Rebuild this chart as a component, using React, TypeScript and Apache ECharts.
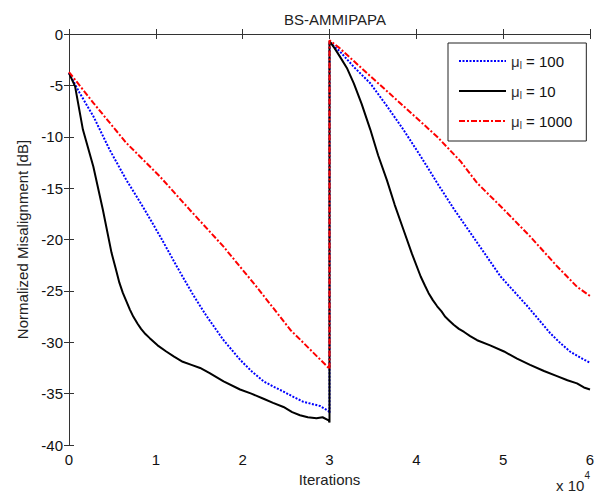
import React, { useEffect, useRef } from "react";
import * as echarts from "echarts";

// x in units of 10^4 iterations
const blackX = [0, 0.07, 0.16, 0.28, 0.39, 0.49, 0.54, 0.58, 0.62, 0.66, 0.7, 0.74, 0.79, 0.83, 0.88, 0.93, 1.02, 1.12, 1.21, 1.31, 1.41, 1.51, 1.62, 1.78, 1.97, 2.1, 2.24, 2.35, 2.47, 2.57, 2.66, 2.75, 2.85, 2.92, 2.99, 3.0, 3.0, 3.06, 3.12, 3.2, 3.28, 3.37, 3.47, 3.56, 3.66, 3.75, 3.85, 3.95, 4.05, 4.1, 4.14, 4.19, 4.24, 4.29, 4.33, 4.38, 4.43, 4.49, 4.55, 4.62, 4.7, 4.85, 5.01, 5.16, 5.31, 5.47, 5.62, 5.74, 5.85, 5.93, 6.0];
const blackY = [-3.8, -5.1, -9.3, -12.9, -17.1, -21.3, -22.9, -24.2, -25.2, -26.0, -26.8, -27.5, -28.2, -28.7, -29.2, -29.6, -30.3, -30.9, -31.4, -31.9, -32.2, -32.5, -33.0, -33.8, -34.6, -35.0, -35.5, -35.9, -36.3, -36.8, -37.1, -37.3, -37.4, -37.3, -37.6, -37.8, -0.7, -1.4, -2.2, -3.3, -4.8, -6.8, -9.3, -11.8, -14.2, -16.6, -19.0, -21.4, -23.6, -24.5, -25.2, -25.9, -26.5, -27.0, -27.5, -27.9, -28.3, -28.7, -29.0, -29.4, -29.8, -30.3, -30.9, -31.6, -32.2, -32.8, -33.3, -33.7, -34.0, -34.4, -34.6];

const blueX = [0, 0.12, 0.28, 0.47, 0.66, 0.85, 1.05, 1.24, 1.43, 1.58, 1.78, 1.97, 2.1, 2.24, 2.35, 2.47, 2.58, 2.7, 2.89, 2.99, 3.0, 3.0, 3.12, 3.28, 3.47, 3.66, 3.85, 4.05, 4.24, 4.43, 4.7, 4.97, 5.28, 5.54, 5.66, 5.77, 5.89, 6.0];
const blueY = [-3.8, -5.7, -8.0, -11.3, -14.2, -16.8, -19.7, -22.6, -25.4, -27.4, -29.8, -31.7, -32.8, -33.8, -34.3, -34.8, -35.3, -35.8, -36.2, -36.7, -36.9, -0.8, -1.7, -3.2, -4.8, -7.0, -9.3, -11.9, -14.5, -17.0, -20.3, -23.6, -26.5, -29.1, -30.1, -30.9, -31.5, -32.0];

const redX = [0, 0.28, 0.66, 1.05, 1.39, 1.78, 2.16, 2.55, 2.99, 3.0, 3.0, 3.12, 3.47, 3.85, 4.24, 4.51, 4.7, 5.01, 5.31, 5.62, 5.85, 6.0];
const redY = [-3.7, -6.7, -10.6, -13.9, -17.1, -20.7, -24.6, -28.8, -32.5, -32.6, -0.6, -1.4, -4.1, -7.0, -10.0, -12.4, -14.5, -17.1, -19.7, -22.6, -24.6, -25.5];

const muValues = ["100", "10", "1000"];
const seriesNames = muValues.map((v) => "μl = " + v);

const zip = (xs: number[], ys: number[]) => xs.map((x, i) => [x, ys[i]]);

const FONT = "Liberation Sans";
const FS = 15;

export default function App() {
  const ref = useRef<HTMLDivElement>(null);
  useEffect(() => {
    if (!ref.current) return;
    const chart = echarts.init(ref.current, null, { renderer: "svg" });
    const axisCommon = {
      axisLine: { show: true, lineStyle: { color: "#333", width: 1 } },
      axisTick: { show: true, inside: true, length: 5, lineStyle: { color: "#333" } },
      splitLine: { show: false },
    };
    chart.setOption({
      animation: false,
      backgroundColor: "#fff",
      title: {
        text: "BS-AMMIPAPA",
        left: 330,
        textAlign: "center",
        top: 7,
        textStyle: { fontFamily: FONT, fontSize: FS, fontWeight: "normal", color: "#222" },
      },
      grid: { left: 69, right: 16, top: 34, bottom: 48, containLabel: false },
      legend: {
        left: 448,
        top: 43,
        orient: "vertical",
        data: seriesNames,
        backgroundColor: "#fff",
        borderColor: "#222",
        borderWidth: 1,
        borderRadius: 0,
        padding: [9, 14, 11, 10],
        itemWidth: 47,
        itemHeight: 14,
        itemGap: 12,
        itemStyle: { opacity: 0, borderWidth: 0 },
        formatter: (name: string) => {
          const v = name.split("= ")[1];
          return "{mu|μ}{sub|l}{t| = " + v + "}";
        },
        textStyle: {
          fontFamily: FONT,
          color: "#111",
          fontSize: FS,
          rich: {
            mu: { fontFamily: FONT, fontSize: FS, color: "#333", lineHeight: 18 },
            sub: { fontFamily: FONT, fontSize: 10, color: "#333", padding: [8, 0, 0, 0], lineHeight: 18 },
            t: { fontFamily: FONT, fontSize: FS, color: "#111", lineHeight: 18 },
          },
        },
      },
      xAxis: [
        {
          type: "value",
          min: 0,
          max: 6,
          interval: 1,
          position: "bottom",
          name: "Iterations",
          nameLocation: "middle",
          nameGap: 26,
          nameTextStyle: { fontFamily: FONT, fontSize: FS, color: "#222" },
          axisLabel: { fontFamily: FONT, fontSize: FS, color: "#111", margin: 7 },
          ...axisCommon,
        },
        {
          type: "value",
          min: 0,
          max: 6,
          interval: 1,
          position: "top",
          axisLabel: { show: false },
          ...axisCommon,
        },
      ],
      yAxis: [
        {
          type: "value",
          min: -40,
          max: 0,
          interval: 5,
          position: "left",
          name: "Normalized Misalignment [dB]",
          nameLocation: "middle",
          nameGap: 37,
          nameTextStyle: { fontFamily: FONT, fontSize: FS, color: "#222" },
          axisLabel: { fontFamily: FONT, fontSize: FS, color: "#111", margin: 6 },
          ...axisCommon,
        },
        {
          type: "value",
          min: -40,
          max: 0,
          interval: 5,
          position: "right",
          axisLabel: { show: false },
          ...axisCommon,
        },
      ],
      graphic: [
        {
          type: "text",
          right: 16,
          top: 470,
          style: {
            text: "{a|x 10}{b|4}",
            rich: {
              a: { fontFamily: FONT, fontSize: FS, fill: "#222", padding: [8, 0, 0, 0] },
              b: { fontFamily: FONT, fontSize: 10, fill: "#222", verticalAlign: "top" },
            },
          },
        },
      ],
      series: [
        {
          name: seriesNames[0],
          type: "line",
          data: zip(blueX, blueY),
          showSymbol: false,
          symbol: "none",
          lineStyle: { color: "#0000ff", width: 2, type: [2, 1.5] },
          itemStyle: { color: "#0000ff" },
        },
        {
          name: seriesNames[1],
          type: "line",
          data: zip(blackX, blackY),
          showSymbol: false,
          symbol: "none",
          lineStyle: { color: "#000000", width: 2, type: "solid" },
          itemStyle: { color: "#000000" },
        },
        {
          name: seriesNames[2],
          type: "line",
          data: zip(redX, redY),
          showSymbol: false,
          symbol: "none",
          lineStyle: { color: "#ff0000", width: 2, type: [6, 2, 2, 2] },
          itemStyle: { color: "#ff0000" },
        },
      ],
    });
    return () => chart.dispose();
  }, []);
  return (
    <div
      ref={ref}
      style={{ position: "absolute", left: 0, top: 0, width: 606, height: 493 }}
    />
  );
}
